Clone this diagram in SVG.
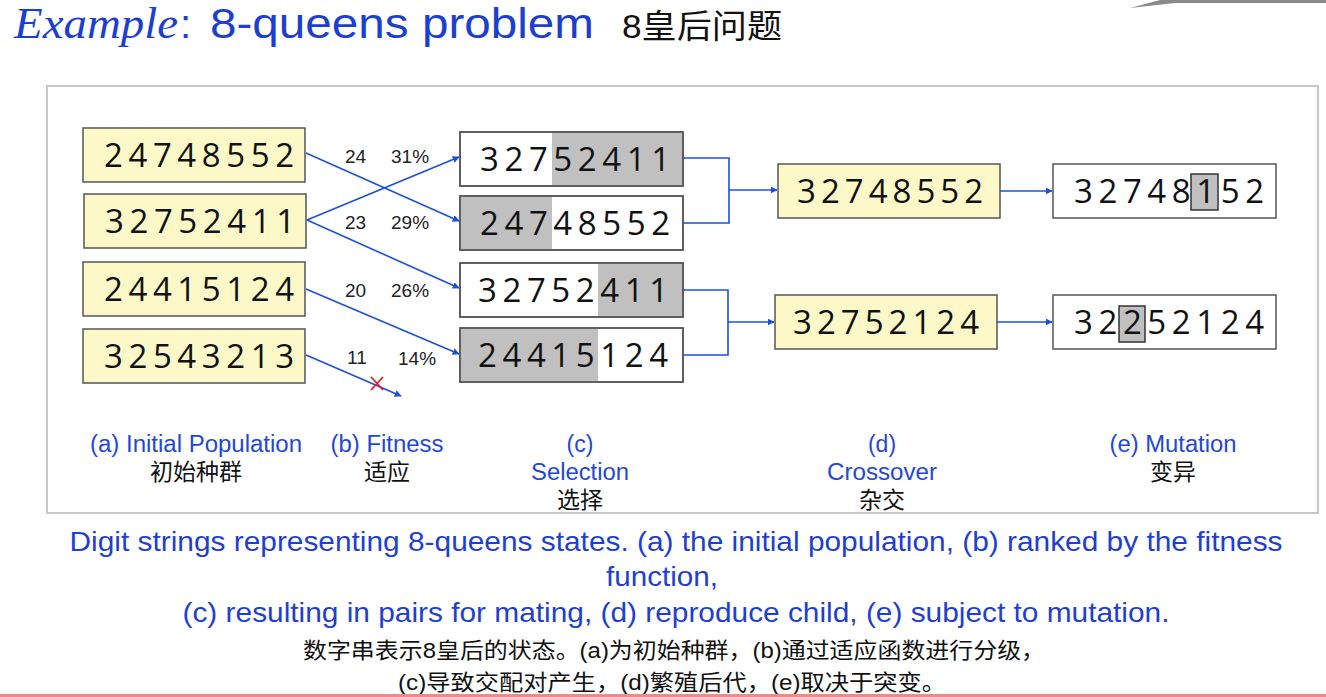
<svg xmlns="http://www.w3.org/2000/svg" width="1326" height="697" viewBox="0 0 1326 697">
<defs>
<marker id="ah" viewBox="0 0 10 10" refX="9" refY="5" markerWidth="7" markerHeight="7" markerUnits="userSpaceOnUse" orient="auto"><path d="M0,0 L10,5 L0,10 z" fill="#1c4fe0"/></marker>
<style>
.box{stroke:#555;stroke-width:1.5}
.y{fill:#fcf8c8}
.w{fill:#fff}
.g{fill:#c0c0c0}
.dig{font-family:"Open Sans","Noto Sans",sans-serif;font-size:33px;fill:#111}
.fit{font-family:"Liberation Sans",Arial,sans-serif;font-size:19px;fill:#222}
.lab{font-family:"Liberation Sans",Arial,sans-serif;font-size:23px;fill:#2447d6;text-anchor:middle}
.cn{font-family:"Liberation Sans","Noto Sans CJK SC",sans-serif;font-size:23px;fill:#111;text-anchor:middle}
.cap{font-family:"Liberation Sans",Arial,sans-serif;font-size:28px;fill:#1f3fd2;text-anchor:middle}
.capcn{font-family:"Liberation Sans","Noto Sans CJK SC",sans-serif;font-size:22px;fill:#111;text-anchor:middle}
.con{stroke:#1c4fe0;stroke-width:1.6;fill:none}
</style>
</defs>
<rect width="1326" height="697" fill="#fff"/>
<path d="M1130,8 L1160,0 L1326,0 L1326,3 L1175,3 Z" fill="#8a8a8a"/>
<g id="title">
<text x="14" y="38" font-family="Liberation Serif,serif" font-style="italic" font-size="44" fill="#1d3fd0" textLength="164" lengthAdjust="spacingAndGlyphs">Example</text>
<text x="180" y="38" font-family="Liberation Sans,sans-serif" font-size="40" fill="#1d3fd0">:</text>
<text x="210" y="38" font-family="Liberation Sans,sans-serif" font-size="42" fill="#1d3fd0" textLength="384" lengthAdjust="spacingAndGlyphs">8-queens problem</text>
<text x="622" y="38" font-family="Liberation Sans,'Noto Sans CJK SC',sans-serif" font-size="33" fill="#111" textLength="160" lengthAdjust="spacingAndGlyphs">8皇后问题</text>
</g>
<rect x="47" y="86" width="1271" height="427" fill="none" stroke="#c8c8c8" stroke-width="2"/>
<g id="a1"><rect class="box y" x="83" y="128" width="222" height="54"/><text class="dig" x="104" y="167" textLength="190" lengthAdjust="spacing">24748552</text></g>
<g id="a2"><rect class="box y" x="84" y="194" width="222" height="54"/><text class="dig" x="105" y="233" textLength="190" lengthAdjust="spacing">32752411</text></g>
<g id="a3"><rect class="box y" x="83" y="262" width="222" height="54"/><text class="dig" x="104" y="301" textLength="190" lengthAdjust="spacing">24415124</text></g>
<g id="a4"><rect class="box y" x="83" y="329" width="222" height="54"/><text class="dig" x="104" y="368" textLength="190" lengthAdjust="spacing">32543213</text></g>
<g id="fitness">
<text class="fit" x="345" y="163">24</text><text class="fit" x="391" y="163">31%</text>
<text class="fit" x="345" y="229">23</text><text class="fit" x="391" y="229">29%</text>
<text class="fit" x="345" y="297">20</text><text class="fit" x="391" y="297">26%</text>
<text class="fit" x="347" y="364">11</text><text class="fit" x="398" y="365">14%</text>
</g>
<g id="c1"><rect class="box w" x="460" y="132" width="223" height="54"/><rect class="g" x="552" y="133" width="130" height="52"/><rect class="box" fill="none" x="460" y="132" width="223" height="54"/><text class="dig" x="480" y="171" textLength="190" lengthAdjust="spacing">32752411</text></g>
<g id="c2"><rect class="box w" x="460" y="196" width="223" height="54"/><rect class="g" x="461" y="197" width="91" height="52"/><rect class="box" fill="none" x="460" y="196" width="223" height="54"/><text class="dig" x="480" y="235" textLength="190" lengthAdjust="spacing">24748552</text></g>
<g id="c3"><rect class="box w" x="460" y="263" width="223" height="54"/><rect class="g" x="598" y="264" width="84" height="52"/><rect class="box" fill="none" x="460" y="263" width="223" height="54"/><text class="dig" x="478" y="302" textLength="190" lengthAdjust="spacing">32752411</text></g>
<g id="c4"><rect class="box w" x="460" y="328" width="223" height="54"/><rect class="g" x="461" y="329" width="137" height="52"/><rect class="box" fill="none" x="460" y="328" width="223" height="54"/><text class="dig" x="478" y="367" textLength="190" lengthAdjust="spacing">24415124</text></g>
<g id="d1"><rect class="box y" x="778" y="164" width="222" height="54"/><text class="dig" x="797" y="203" textLength="186" lengthAdjust="spacing">32748552</text></g>
<g id="d2"><rect class="box y" x="775" y="295" width="222" height="54"/><text class="dig" x="793" y="334" textLength="186" lengthAdjust="spacing">32752124</text></g>
<g id="e1"><rect class="box w" x="1053" y="164" width="223" height="54"/><rect x="1191" y="174" width="27" height="36" fill="#c0c0c0" stroke="#333" stroke-width="1.5"/><text class="dig" x="1074" y="203" textLength="190" lengthAdjust="spacing">32748152</text></g>
<g id="e2"><rect class="box w" x="1053" y="295" width="223" height="54"/><rect x="1119" y="306" width="26" height="36" fill="#c0c0c0" stroke="#333" stroke-width="1.5"/><text class="dig" x="1074" y="334" textLength="190" lengthAdjust="spacing">32252124</text></g>
<g id="connectors">
<line class="con" x1="306" y1="153" x2="459" y2="221" marker-end="url(#ah)"/>
<line class="con" x1="307" y1="220" x2="459" y2="157" marker-end="url(#ah)"/>
<line class="con" x1="307" y1="220" x2="459" y2="288" marker-end="url(#ah)"/>
<line class="con" x1="306" y1="289" x2="459" y2="354" marker-end="url(#ah)"/>
<line class="con" x1="306" y1="355" x2="401" y2="396" marker-end="url(#ah)"/>
<path class="con" d="M683,158 H729 V223 H683"/>
<line class="con" x1="729" y1="190" x2="777" y2="190" marker-end="url(#ah)"/>
<path class="con" d="M683,290 H728 V355 H683"/>
<line class="con" x1="728" y1="322" x2="774" y2="322" marker-end="url(#ah)"/>
<line class="con" x1="1000" y1="191" x2="1052" y2="191" marker-end="url(#ah)"/>
<line class="con" x1="997" y1="322" x2="1052" y2="322" marker-end="url(#ah)"/>
<path d="M371,377 L383,390 M383,377 L371,390" stroke="#e02020" stroke-width="1.8"/>
</g>
<g id="labels">
<text class="lab" x="196" y="452" textLength="212" lengthAdjust="spacingAndGlyphs">(a) Initial Population</text><text class="cn" x="196" y="480">初始种群</text>
<text class="lab" x="387" y="452" textLength="113" lengthAdjust="spacingAndGlyphs">(b) Fitness</text><text class="cn" x="387" y="480">适应</text>
<text class="lab" x="580" y="452">(c)</text><text class="lab" x="580" y="480" textLength="98" lengthAdjust="spacingAndGlyphs">Selection</text><text class="cn" x="580" y="508">选择</text>
<text class="lab" x="882" y="452">(d)</text><text class="lab" x="882" y="480" textLength="110" lengthAdjust="spacingAndGlyphs">Crossover</text><text class="cn" x="882" y="508">杂交</text>
<text class="lab" x="1173" y="452" textLength="127" lengthAdjust="spacingAndGlyphs">(e) Mutation</text><text class="cn" x="1173" y="480">变异</text>
</g>
<g id="caption">
<text class="cap" x="676" y="551" textLength="1213" lengthAdjust="spacingAndGlyphs">Digit strings representing 8-queens states. (a) the initial population, (b) ranked by the fitness</text>
<text class="cap" x="662" y="586" textLength="112" lengthAdjust="spacingAndGlyphs">function,</text>
<text class="cap" x="676" y="622" textLength="987" lengthAdjust="spacingAndGlyphs">(c) resulting in pairs for mating, (d) reproduce child, (e) subject to mutation.</text>
<text class="capcn" x="674" y="658" textLength="742" lengthAdjust="spacingAndGlyphs">数字串表示8皇后的状态。(a)为初始种群，(b)通过适应函数进行分级，</text>
<text class="capcn" x="672" y="690" textLength="548" lengthAdjust="spacingAndGlyphs">(c)导致交配对产生，(d)繁殖后代，(e)取决于突变。</text>
</g>
<rect x="0" y="694" width="1326" height="3" fill="#f08a8a"/>
</svg>
